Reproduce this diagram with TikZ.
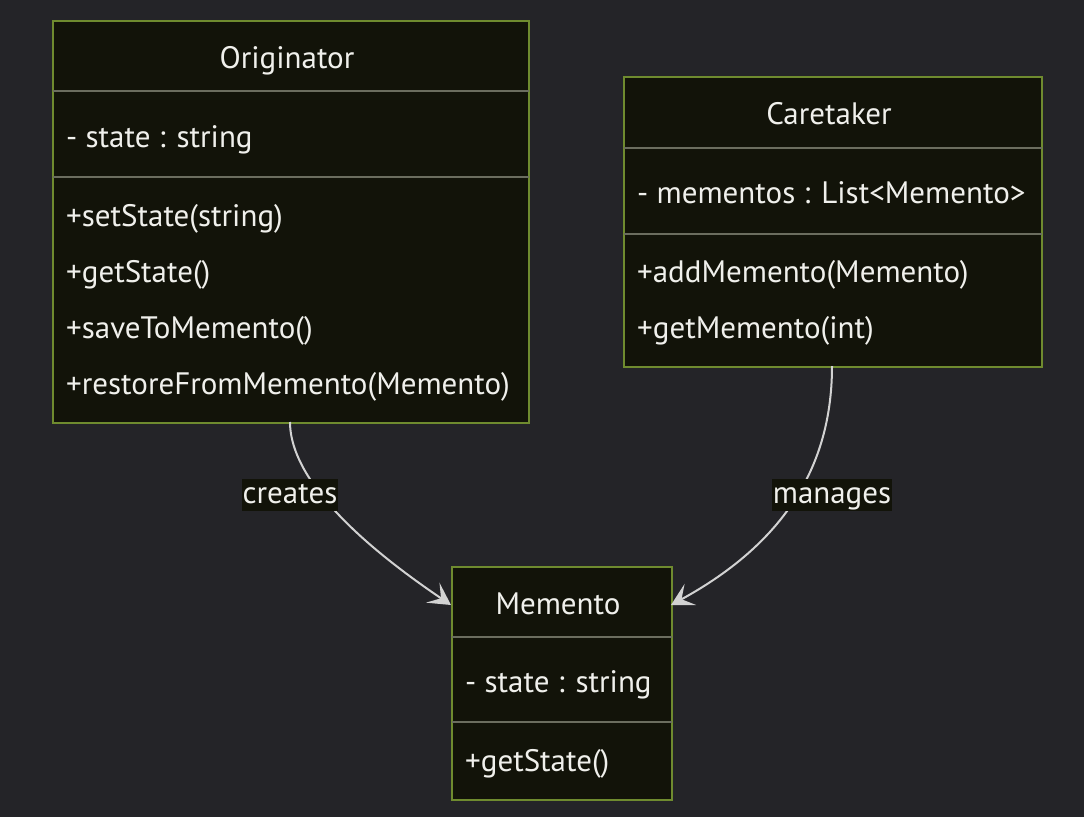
\documentclass[tikz,border=0pt]{standalone}
\usepackage{fontspec}
\setmainfont{PT Sans}
\usetikzlibrary{arrows.meta, positioning, calc}
\definecolor{bgc}{HTML}{242428}
\definecolor{boxfill}{HTML}{121309}
\definecolor{boxline}{HTML}{6F8B2F}
\definecolor{divline}{HTML}{6B6D5F}
\definecolor{txt}{HTML}{F0F0EC}
\definecolor{edge}{HTML}{D2D2D2}
\tikzset{
  cls/.style={
    draw=boxline, line width=2.2pt, fill=boxfill,
    anchor=north west, inner sep=0pt
  },
  divl/.style={draw=divline, line width=2pt},
  ttl/.style={text=txt, font=\fontsize{31}{36}\selectfont, inner sep=0pt, anchor=base},
  mbr/.style={ttl, anchor=base west},
  dep/.style={draw=edge, line width=2pt,
    -{Stealth[length=22pt,width=24pt,inset=10pt]}},
  lbl/.style={ttl, fill=boxfill, inner sep=1pt, text height=23pt, text depth=7pt}
}

\begin{document}
\begin{tikzpicture}[x=1pt, y=-1pt]

  \fill[bgc] (0,0) rectangle (1084,817);
  \useasboundingbox (0,0) rectangle (1084,817);

  % classes
  \node[cls, minimum width=476pt, minimum height=402pt] (orig) at (52,20) {};
  \node[cls, minimum width=418pt, minimum height=290pt] (care) at (623,76) {};
  \node[cls, minimum width=220pt, minimum height=233pt] (memo) at (451,566) {};

  \draw[divl] ($(orig.north west)+(1,71)$)  -- ($(orig.north east)+(-1,71)$);
  \draw[divl] ($(orig.north west)+(1,157)$) -- ($(orig.north east)+(-1,157)$);
  \draw[divl] ($(care.north west)+(1,72)$)  -- ($(care.north east)+(-1,72)$);
  \draw[divl] ($(care.north west)+(1,158)$) -- ($(care.north east)+(-1,158)$);
  \draw[divl] ($(memo.north west)+(1,71)$)  -- ($(memo.north east)+(-1,71)$);
  \draw[divl] ($(memo.north west)+(1,156)$) -- ($(memo.north east)+(-1,156)$);

  % Originator
  \node[ttl] (origT) at (287,68) {Originator};
  \node[mbr] (origA) at (66,147) {- state : string};
  \node[mbr] (origM1) at (66,226) {+setState(string)};
  \node[mbr] (origM2) at (66,282) {+getState()};
  \node[mbr] (origM3) at (66,338) {+saveToMemento()};
  \node[mbr] (origM4) at (66,394) {+restoreFromMemento(Memento)};

  % Caretaker
  \node[ttl] (careT) at (829,124) {Caretaker};
  \node[mbr] (careA) at (637,203) {- mementos : List<Memento>};
  \node[mbr] (careM1) at (637,282) {+addMemento(Memento)};
  \node[mbr] (careM2) at (637,338) {+getMemento(int)};

  % Memento
  \node[ttl] (memoT) at (558,614) {Memento};
  \node[mbr] (memoA) at (465,692) {- state : string};
  \node[mbr] (memoM1) at (465,771) {+getState()};

  % relations
  \coordinate (crtS) at (290,422);
  \coordinate (mngS) at (832,366);
  \coordinate (crtE) at (451,605);
  \coordinate (mngE) at (671,605);
  \draw[dep] (crtS) .. controls (290,470) and (340,530) .. (crtE);
  \draw[dep] (mngS) .. controls (832,460) and (790,540) .. (mngE);
  \node[lbl] (crt) at (290,503) {creates};
  \node[lbl] (mng) at (832,503) {manages};

\end{tikzpicture}
\end{document}
